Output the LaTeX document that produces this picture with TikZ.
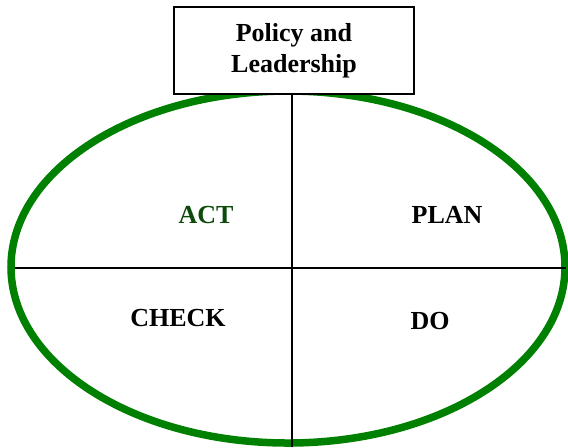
\documentclass[tikz,border=0pt]{standalone}
\usepackage{fontspec}
\setmainfont{Liberation Serif}
\usepackage{tikz}
\definecolor{ringgreen}{HTML}{008000}
\definecolor{actgreen}{HTML}{0B4A0B}
\tikzset{
  phase/.style={font=\fontsize{13}{15}\selectfont\bfseries, inner sep=0pt},
  divider/.style={line width=1pt, black}
}

\begin{document}
\begin{tikzpicture}[x=0.5pt, y=-0.5pt]
        \useasboundingbox (0,0) rectangle (568,447);

        % Cycle ring
        \draw[ringgreen, line width=3.75pt] (288,267) ellipse [x radius=277, y radius=176];

        % Dividers
        \coordinate (vbot) at (292,447);
        \coordinate (hleft) at (15,268);
        \coordinate (hright) at (566,268);
        \draw[divider] (hleft) -- (hright);

        % Policy box
        \node[draw, line width=1pt, fill=white, minimum width=120pt, minimum height=43.5pt,
              align=center, font=\fontsize{13}{15.5}\selectfont\bfseries] (policy) at (294,50.5)
              {Policy and\\Leadership};
        \draw[divider] (vbot |- policy.south) -- (vbot);

        % Phases
        \node[phase, text=actgreen] (act) at (206,215) {ACT};
        \node[phase] (plan) at (447,215) {PLAN};
        \node[phase] (check) at (178,318) {CHECK};
        \node[phase] (do) at (430,321) {DO};

\end{tikzpicture}
\end{document}
